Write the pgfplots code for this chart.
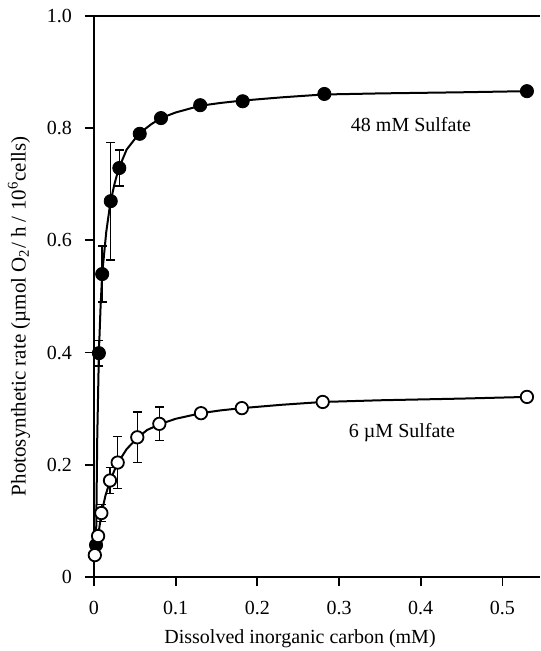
\documentclass[border=0pt]{standalone}
\usepackage{fontspec}
\setmainfont{Liberation Serif}
\usepackage{pgfplots}
\pgfplotsset{compat=1.18}

\begin{document}
\begin{tikzpicture}
\begin{axis}[
    scale only axis,
    width=223pt, height=280.5pt,
    xmin=0, xmax=0.546,
    ymin=0, ymax=1,
    axis x line*=bottom,
    axis y line*=left,
    axis line style={line width=1pt, black},
    tick align=outside,
    major tick length=4.5pt,
    tick style={line width=0.9pt, black},
    xtick={0,0.1,0.2,0.3,0.4,0.5},
    xticklabels={0,0.1,0.2,0.3,0.4,0.5},
    ytick={0,0.2,0.4,0.6,0.8,1.0},
    yticklabels={0,0.2,0.4,0.6,0.8,1.0},
    xticklabel style={yshift=-4pt},
    yticklabel style={xshift=-3pt},
    font=\fontsize{10}{12}\selectfont,
    xlabel={Dissolved inorganic carbon (mM)},
    xlabel style={at={(axis description cs:0.462,-0.11)}, anchor=center},
    ylabel={Photosynthetic rate (µmol O\textsubscript{2}/ h / 10\textsuperscript{6}cells)},
    ylabel style={at={(axis description cs:-0.168,0.465)}, anchor=center,
        font=\fontsize{10.5}{12}\selectfont},
    clip=false,
]
% fitted curves
\addplot[line width=1pt, black] coordinates {
    (0.0025,0.057) (0.004,0.25) (0.006,0.40) (0.008,0.48) (0.010,0.54)
    (0.015,0.615) (0.020,0.667) (0.025,0.700) (0.030,0.727) (0.040,0.762)
    (0.055,0.790) (0.070,0.807) (0.082,0.818) (0.100,0.828) (0.130,0.840)
    (0.155,0.845) (0.180,0.849) (0.230,0.855) (0.280,0.860) (0.350,0.862)
    (0.450,0.864) (0.530,0.866)
};
\addplot[line width=1pt, black] coordinates {
    (0.001,0.039) (0.005,0.073) (0.009,0.112) (0.014,0.145) (0.0196,0.171)
    (0.025,0.190) (0.029,0.203) (0.040,0.228) (0.053,0.248) (0.065,0.262)
    (0.080,0.272) (0.100,0.282) (0.131,0.292) (0.155,0.297) (0.181,0.301)
    (0.230,0.307) (0.280,0.312) (0.350,0.315) (0.450,0.318) (0.530,0.321)
};
% error bars
\addplot[only marks, mark=none, line width=0.7pt,
    error bars/.cd, y dir=both, y explicit,
    error bar style={line width=0.7pt},
    error mark options={rotate=90, mark size=2.2pt, line width=0.7pt}]
    table[x=x, y=y, y error=e] {
x y e
0.006 0.399 0.023
0.010 0.540 0.050
0.0205 0.670 0.105
0.031 0.729 0.032
0.009 0.114 0.015
0.0196 0.172 0.023
0.029 0.204 0.046
0.053 0.249 0.045
0.080 0.273 0.030
};
% 48 mM sulfate
\addplot[only marks, mark=*, mark size=3.3pt, black] coordinates {
    (0.0025,0.057) (0.006,0.399) (0.010,0.540) (0.0205,0.670) (0.031,0.729)
    (0.056,0.790) (0.082,0.818) (0.130,0.841) (0.182,0.848) (0.282,0.861)
    (0.530,0.866)
};
% 6 uM sulfate
\addplot[only marks, mark=*, mark size=3.1pt, mark options={fill=white, draw=black, line width=0.9pt}] coordinates {
    (0.001,0.039) (0.005,0.073) (0.009,0.114) (0.0196,0.172) (0.029,0.204)
    (0.053,0.249) (0.080,0.273) (0.131,0.292) (0.181,0.301) (0.280,0.312)
    (0.530,0.321)
};
\draw[line width=1pt] (rel axis cs:0,1) -- (rel axis cs:1,1);
\node at (axis cs:0.388,0.806) {48 mM Sulfate};
\node at (axis cs:0.377,0.257) {6 µM Sulfate};
\end{axis}
\pgfresetboundingbox
\path[use as bounding box] (-47pt,-37pt) rectangle (223pt,288.5pt);
\end{tikzpicture}
\end{document}
